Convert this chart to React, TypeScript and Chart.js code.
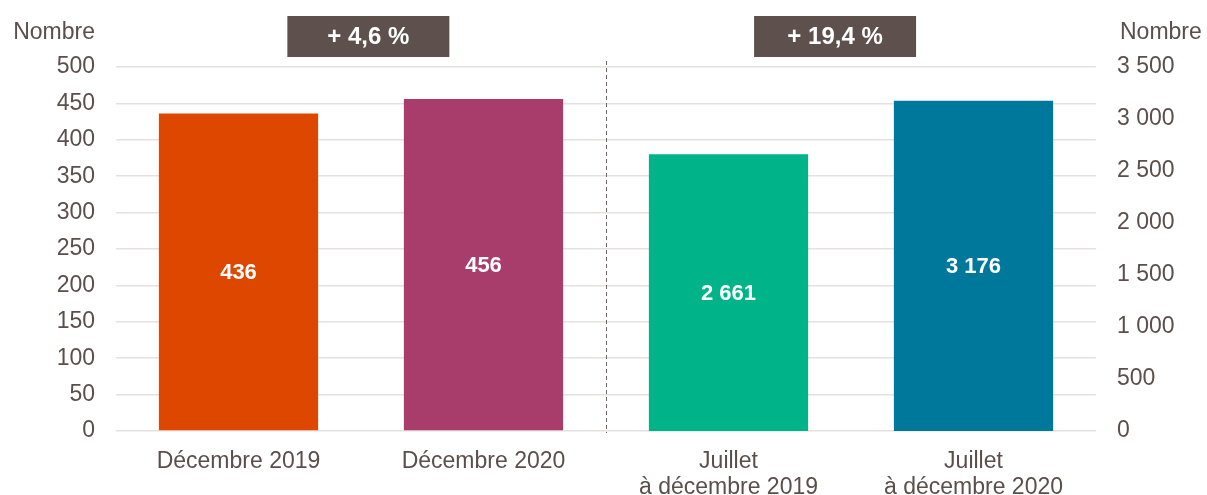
import React, { useEffect, useRef } from "react";
import { Chart, registerables } from "chart.js";

Chart.register(...registerables);

const categories: string[][] = [
  ["Décembre 2019"],
  ["Décembre 2020"],
  ["Juillet", "à décembre 2019"],
  ["Juillet", "à décembre 2020"],
];
const monthValues: (number | null)[] = [436, 456, null, null];
const periodValues: (number | null)[] = [null, null, 2661, 3176];
const barColors = ["#DD4700", "#A83C6A", "#00B388", "#00789C"];
const leftMax = 500;
const leftStep = 50;
const rightMax = 3500;
const rightStep = 500;
const axisTitle = "Nombre";
const changeLabels = ["+ 4,6 %", "+ 19,4 %"];
const changeOffsets = [0.03, -0.065]; // in category units relative to the pair midpoint

const TEXT = "#5B4F4B";
const FONT = "'Liberation Sans', Arial, sans-serif";

const fmt = (n: number) => String(n).replace(/\B(?=(\d{3})+(?!\d))/g, " ");

export default function App() {
  const ref = useRef<HTMLCanvasElement | null>(null);

  useEffect(() => {
    document.body.style.margin = "0";
    const canvas = ref.current;
    if (!canvas) return;

    const overlay = {
      id: "overlay",
      afterDatasetsDraw(chart: any) {
        const { ctx, chartArea, scales } = chart;
        const x = scales.x;
        ctx.save();
        // dashed separator
        const sepX = Math.round((x.getPixelForValue(1) + x.getPixelForValue(2)) / 2) + 0.5;
        ctx.strokeStyle = "#6f6666";
        ctx.lineWidth = 1;
        ctx.setLineDash([4, 3]);
        ctx.beginPath();
        ctx.moveTo(sepX, chartArea.top - 6);
        ctx.lineTo(sepX, chartArea.bottom + 2);
        ctx.stroke();
        ctx.setLineDash([]);

        // value labels
        ctx.font = `bold 22px ${FONT}`;
        ctx.fillStyle = "#ffffff";
        ctx.textAlign = "center";
        ctx.textBaseline = "middle";
        chart.data.datasets.forEach((ds: any, di: number) => {
          const meta = chart.getDatasetMeta(di);
          meta.data.forEach((bar: any, i: number) => {
            const v = ds.data[i];
            if (v == null) return;
            ctx.fillText(fmt(v), bar.x, (bar.y + bar.base) / 2 + 1);
          });
        });

        // axis titles
        ctx.font = `23px ${FONT}`;
        ctx.fillStyle = TEXT;
        ctx.textAlign = "right";
        ctx.fillText(axisTitle, chartArea.left - 21, chartArea.top - 34);
        ctx.textAlign = "left";
        ctx.fillText(axisTitle, chartArea.right + 24, chartArea.top - 34);

        // change boxes
        changeLabels.forEach((label, k) => {
          const cx = x.getPixelForValue(2 * k + 0.5 + changeOffsets[k]);
          const w = 162;
          const top = chartArea.top - 51;
          const h = 41;
          ctx.fillStyle = "#5E514D";
          ctx.fillRect(cx - w / 2, top, w, h);
          ctx.fillStyle = "#ffffff";
          ctx.font = `bold 24px ${FONT}`;
          ctx.textAlign = "center";
          ctx.textBaseline = "middle";
          ctx.fillText(label, cx, top + h / 2 + 1);
        });
        ctx.restore();
      },
    };

    const chart = new Chart(canvas, {
      type: "bar",
      data: {
        labels: categories,
        datasets: [
          {
            data: monthValues,
            backgroundColor: barColors,
            yAxisID: "y",
            grouped: false,
            barPercentage: 0.65,
            categoryPercentage: 1,
          } as any,
          {
            data: periodValues,
            backgroundColor: barColors,
            yAxisID: "y1",
            grouped: false,
            barPercentage: 0.65,
            categoryPercentage: 1,
          } as any,
        ],
      },
      options: {
        responsive: false,
        animation: false,
        maintainAspectRatio: false,
        layout: { padding: { top: 67, left: 0, right: 0, bottom: 0 } },
        plugins: {
          legend: { display: false },
          tooltip: { enabled: false },
        },
        scales: {
          x: {
            grid: { display: false, drawTicks: false },
            border: { display: false },
            ticks: {
              color: TEXT,
              font: { family: FONT, size: 23, lineHeight: 26 / 23 },
              padding: 18,
              maxRotation: 0,
              autoSkip: false,
            },
            afterFit(scale: any) {
              scale.height = 64;
            },
          },
          y: {
            position: "left",
            min: 0,
            max: leftMax,
            grid: { color: "#E6E0E0", lineWidth: 1.5, drawTicks: false },
            border: { display: false },
            ticks: {
              stepSize: leftStep,
              color: TEXT,
              font: { family: FONT, size: 23 },
              padding: 21,
            },
            afterFit(scale: any) {
              scale.width = 116;
            },
          },
          y1: {
            position: "right",
            min: 0,
            max: rightMax,
            grid: { display: false, drawTicks: false },
            border: { display: false },
            ticks: {
              stepSize: rightStep,
              color: TEXT,
              font: { family: FONT, size: 23 },
              padding: 21,
              callback: (v: any) => fmt(Number(v)),
            },
            afterFit(scale: any) {
              scale.width = 111;
            },
          },
        },
      } as any,
      plugins: [overlay],
    });

    return () => chart.destroy();
  }, []);

  return (
    <div style={{ width: 1207, height: 495 }}>
      <canvas ref={ref} width={1207} height={495} style={{ display: "block" }} />
    </div>
  );
}
